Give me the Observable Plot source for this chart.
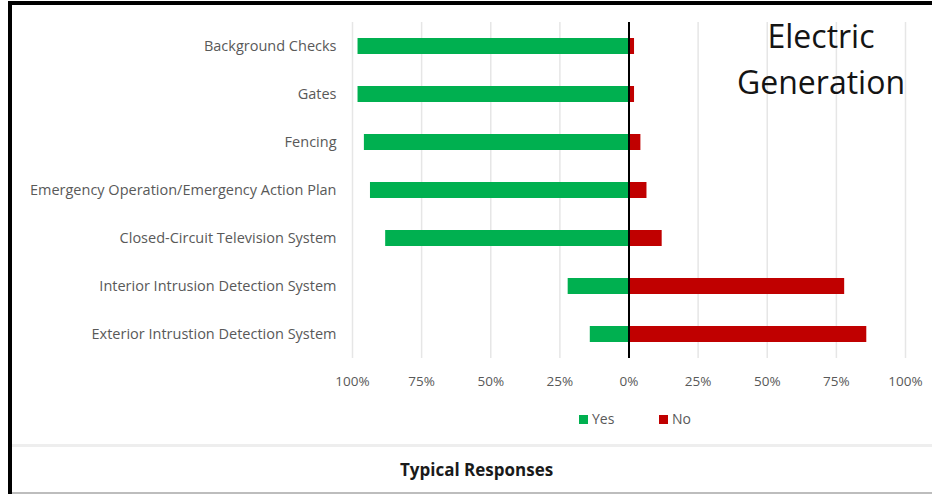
<!DOCTYPE html>
<html>
<head>
<meta charset="utf-8">
<script src="https://cdn.jsdelivr.net/npm/d3@7"></script>
<script src="https://cdn.jsdelivr.net/npm/@observablehq/plot@0.6"></script>
<style>
  body { margin: 0; background: #fff; }
  #wrap { position: relative; width: 932px; height: 494px; background: #fff; overflow: hidden; font-family: "Open Sans", sans-serif; }
  #wrap svg { position: absolute; left: 0; top: 0; }
  .frame { position: absolute; left: 8px; top: 1px; width: 930px; height: 500px; border-top: 4px solid #000; border-left: 4px solid #000; box-sizing: border-box; }
  .title { position: absolute; left: 716px; width: 210px; top: 13px; text-align: center; font-size: 32px; line-height: 46px; color: #141414; }
  .legend { position: absolute; top: 409px; left: 0; width: 932px; height: 20px; font-size: 14px; color: #595959; }
  .legend span.item { position: absolute; top: 0; line-height: 20px; }
  .legend i { display: inline-block; width: 9px; height: 9px; margin-right: 4px; vertical-align: 0px; }
  .sep { position: absolute; left: 12px; right: 0; top: 444px; height: 3px; background: #eeeeee; }
  .caption { position: absolute; left: 400px; top: 459px; font-size: 17px; font-weight: bold; color: #1a1a1a; line-height: 22px; }
  .bottom { position: absolute; left: 12px; right: 0; top: 492px; height: 2px; background: #bdbdbd; }
</style>
</head>
<body>
<div id="wrap"></div>
<script>
// Survey categories, top to bottom
const categories = [
  "Background Checks",
  "Gates",
  "Fencing",
  "Emergency Operation/Emergency Action Plan",
  "Closed-Circuit Television System",
  "Interior Intrusion Detection System",
  "Exterior Intrustion Detection System"
];
// Share of "Yes" and "No" responses (percent)
const yesValues = [98, 98, 95.7, 93.5, 88, 22, 14];
const noValues = [2, 2, 4.3, 6.5, 12, 78, 86];
// Axis ticks (percent, negative side shows Yes)
const tickValues = [-100, -75, -50, -25, 0, 25, 50, 75, 100];
const seriesNames = ["Yes", "No"];
const seriesColors = ["#00B050", "#C00000"];

const rows = categories.map((c, i) => ({category: c, yes: yesValues[i], no: noValues[i]}));
const pct = d => Math.abs(d) + "%";

const chart = Plot.plot({
  width: 932,
  height: 398,
  marginLeft: 352,
  marginRight: 27,
  marginTop: 22,
  marginBottom: 40,
  style: {fontFamily: "Open Sans, sans-serif", fontSize: "13px", color: "#595959", background: "transparent"},
  x: {domain: [-100, 100], label: null},
  y: {domain: categories, paddingInner: 0.667, paddingOuter: 0.333, label: null},
  marks: [
    Plot.gridX(tickValues, {stroke: "#e6e6e6", strokeOpacity: 1, strokeWidth: 1.5}),
    Plot.barX(rows, {y: "category", x1: d => -d.yes, x2: 0, fill: seriesColors[0]}),
    Plot.barX(rows, {y: "category", x1: 0, x2: "no", fill: seriesColors[1]}),
    Plot.ruleX([0], {stroke: "#000", strokeWidth: 2}),
    Plot.axisX({ticks: tickValues, tickFormat: pct, tickSize: 0, tickPadding: 18, fontSize: 13.5}),
    Plot.axisY({tickSize: 0, tickPadding: 16, fontSize: 14.5})
  ]
});

const wrap = document.getElementById("wrap");
wrap.appendChild(chart);

const title = document.createElement("div");
title.className = "title";
title.innerHTML = "Electric<br>Generation";
wrap.appendChild(title);

const legend = document.createElement("div");
legend.className = "legend";
const legendX = [579, 659];
seriesNames.forEach((name, i) => {
  const item = document.createElement("span");
  item.className = "item";
  item.style.left = legendX[i] + "px";
  const sw = document.createElement("i");
  sw.style.background = seriesColors[i];
  item.appendChild(sw);
  item.appendChild(document.createTextNode(name));
  legend.appendChild(item);
});
wrap.appendChild(legend);

for (const cls of ["sep", "bottom", "frame"]) {
  const d = document.createElement("div");
  d.className = cls;
  wrap.appendChild(d);
}
const cap = document.createElement("div");
cap.className = "caption";
cap.textContent = "Typical Responses";
wrap.appendChild(cap);
</script>
</body>
</html>
